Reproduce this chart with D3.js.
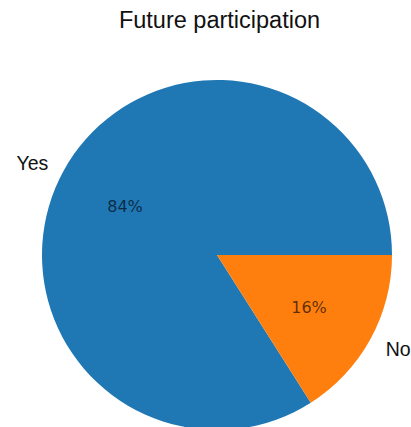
<!DOCTYPE html>
<html>
<head>
<meta charset="utf-8">
<script src="https://cdn.jsdelivr.net/npm/d3@7"></script>
<style>
  html, body { margin: 0; padding: 0; background: #fff; }
  svg { display: block; }
</style>
</head>
<body>
<div id="chart"></div>
<script>
const title = "Future participation";
const categories = ["Yes", "No"];
const values = [84, 16];
const colors = ["#1f77b4", "#ff7f0e"];

const W = 411, H = 427;
const cx = 217, cy = 255, R = 175;

const svg = d3.select("#chart").append("svg")
  .attr("width", W).attr("height", H);

svg.append("text")
  .attr("x", 219.5).attr("y", 28)
  .attr("text-anchor", "middle")
  .style("font-family", "'Liberation Sans', Arial, sans-serif")
  .style("font-size", "23.5px")
  .attr("fill", "#111")
  .text(title);

const data = categories.map((c, i) => ({ label: c, value: values[i], color: colors[i] }));
const total = d3.sum(values);

// matplotlib-like: start at 3 o'clock, go counter-clockwise
const pie = d3.pie().value(d => d.value).sort(null)
  .startAngle(Math.PI / 2).endAngle(Math.PI / 2 - 2 * Math.PI);
const arcs = pie(data);
const arc = d3.arc().innerRadius(0).outerRadius(R);

const g = svg.append("g").attr("transform", `translate(${cx},${cy})`);

g.selectAll("path.slice").data(arcs).enter().append("path")
  .attr("class", "slice")
  .attr("d", arc)
  .attr("fill", d => d.data.color);

const pos = (d, k) => {
  const a = (d.startAngle + d.endAngle) / 2;
  return [k * R * Math.sin(a), -k * R * Math.cos(a)];
};

g.selectAll("text.lbl").data(arcs).enter().append("text")
  .attr("class", "lbl")
  .attr("x", d => pos(d, 1.1)[0])
  .attr("y", d => pos(d, 1.1)[1])
  .attr("dy", "0.42em")
  .attr("text-anchor", d => pos(d, 1.1)[0] < 0 ? "end" : "start")
  .style("font-family", "'Liberation Sans', Arial, sans-serif")
  .style("font-size", "19.5px")
  .attr("fill", "#111")
  .text(d => d.data.label);

const fmt = d3.format(".0f");
g.selectAll("text.pct").data(arcs).enter().append("text")
  .attr("class", "pct")
  .attr("x", d => pos(d, 0.6)[0])
  .attr("y", d => pos(d, 0.6)[1])
  .attr("dy", "0.45em")
  .attr("text-anchor", "middle")
  .style("font-family", "'DejaVu Sans', sans-serif")
  .style("font-size", "16px")
  .attr("fill", "#000")
  .attr("fill-opacity", 0.65)
  .text(d => fmt(d.data.value / total * 100) + "%");
</script>
</body>
</html>
